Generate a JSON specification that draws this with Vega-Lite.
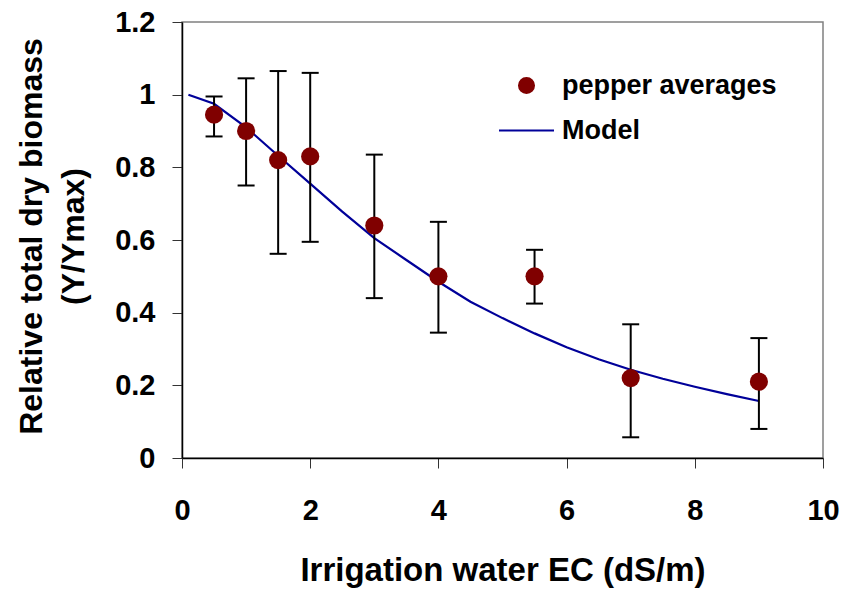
{
  "$schema": "https://vega.github.io/schema/vega-lite/v6.json",
  "autosize": "none",
  "width": 641,
  "height": 436,
  "padding": {"left": 182, "top": 22, "right": 20, "bottom": 132},
  "background": "white",
  "config": {
    "font": "Liberation Sans",
    "view": {"stroke": "#808080", "strokeWidth": 1.5},
    "axis": {
      "grid": false,
      "domainColor": "black",
      "domainWidth": 1.5,
      "tickColor": "#333333",
      "tickSize": 10,
      "tickWidth": 1,
      "labelFont": "Liberation Sans",
      "labelFontWeight": "bold",
      "labelFontSize": 29,
      "labelColor": "black",
      "titleFont": "Liberation Sans",
      "titleFontWeight": "bold",
      "titleFontSize": 31,
      "titleColor": "black"
    }
  },
  "datasets": {
    "obs": [
      {"ec": 0.5, "y": 0.945, "lo": 0.885, "hi": 0.995, "series": "pepper averages"},
      {"ec": 1.0, "y": 0.900, "lo": 0.750, "hi": 1.045, "series": "pepper averages"},
      {"ec": 1.5, "y": 0.820, "lo": 0.562, "hi": 1.065, "series": "pepper averages"},
      {"ec": 2.0, "y": 0.830, "lo": 0.595, "hi": 1.060, "series": "pepper averages"},
      {"ec": 3.0, "y": 0.640, "lo": 0.440, "hi": 0.835, "series": "pepper averages"},
      {"ec": 4.0, "y": 0.500, "lo": 0.345, "hi": 0.650, "series": "pepper averages"},
      {"ec": 5.5, "y": 0.500, "lo": 0.425, "hi": 0.573, "series": "pepper averages"},
      {"ec": 7.0, "y": 0.220, "lo": 0.057, "hi": 0.368, "series": "pepper averages"},
      {"ec": 9.0, "y": 0.210, "lo": 0.080, "hi": 0.330, "series": "pepper averages"}
    ],
    "model": [
      {"ec": 0.1, "y": 1.000, "series": "Model"},
      {"ec": 0.5, "y": 0.975, "series": "Model"},
      {"ec": 1.0, "y": 0.910, "series": "Model"},
      {"ec": 1.5, "y": 0.832, "series": "Model"},
      {"ec": 2.0, "y": 0.755, "series": "Model"},
      {"ec": 2.5, "y": 0.678, "series": "Model"},
      {"ec": 3.0, "y": 0.605, "series": "Model"},
      {"ec": 3.5, "y": 0.545, "series": "Model"},
      {"ec": 4.0, "y": 0.485, "series": "Model"},
      {"ec": 4.5, "y": 0.430, "series": "Model"},
      {"ec": 5.0, "y": 0.385, "series": "Model"},
      {"ec": 5.5, "y": 0.343, "series": "Model"},
      {"ec": 6.0, "y": 0.305, "series": "Model"},
      {"ec": 6.5, "y": 0.272, "series": "Model"},
      {"ec": 7.0, "y": 0.243, "series": "Model"},
      {"ec": 7.5, "y": 0.218, "series": "Model"},
      {"ec": 8.0, "y": 0.196, "series": "Model"},
      {"ec": 8.5, "y": 0.176, "series": "Model"},
      {"ec": 9.0, "y": 0.157, "series": "Model"}
    ]
  },
  "encoding": {
    "x": {
      "field": "ec", "type": "quantitative",
      "scale": {"domain": [0, 10], "nice": false, "zero": false},
      "axis": {"values": [0, 2, 4, 6, 8, 10], "labelPadding": 28, "titlePadding": 29, "titleFontSize": 33, "labelFlush": false, "title": "Irrigation water EC (dS/m)"}
    },
    "y": {
      "field": "y", "type": "quantitative",
      "scale": {"domain": [0, 1.2], "nice": false},
      "axis": {"values": [0, 0.2, 0.4, 0.6, 0.8, 1, 1.2], "format": "~g", "labelPadding": 17, "labelFlush": false, "titlePadding": 24, "titleFontSize": 32, "titleLineHeight": 42, "titleY": 214, "title": ["Relative total dry biomass", "(Y/Ymax)"]}
    }
  },
  "layer": [
    {
      "data": {"name": "model"},
      "mark": {"type": "line", "strokeWidth": 2.2, "interpolate": "linear"},
      "encoding": {
        "color": {
          "field": "series", "type": "nominal",
          "scale": {"domain": ["pepper averages", "Model"], "range": ["#800000", "#000099"]},
          "legend": {
            "title": null,
            "orient": "none",
            "legendX": 331,
            "legendY": 50,
            "padding": 0,
            "symbolSize": 1849,
            "symbolStrokeWidth": 2.2,
            "labelFont": "Liberation Sans",
            "labelFontWeight": "bold",
            "labelFontSize": 27,
            "labelColor": "black",
            "labelOffset": 22,
            "labelLimit": 400,
            "rowPadding": 17,
            "encode": {
              "symbols": {
                "update": {
                  "shape": {"signal": "datum.value === 'Model' ? 'stroke' : 'circle'"},
                  "size": {"signal": "datum.value === 'Model' ? 3025 : 220"},
                  "fill": {"signal": "datum.value === 'Model' ? 'transparent' : '#800000'"},
                  "stroke": {"signal": "datum.value === 'Model' ? '#000099' : 'transparent'"},
                  "strokeWidth": {"value": 2.2},
                  "opacity": {"value": 1}
                }
              }
            }
          }
        }
      }
    },
    {
      "data": {"name": "obs"},
      "mark": {"type": "rule", "color": "black", "strokeWidth": 2},
      "encoding": {
        "y": {"field": "lo", "type": "quantitative"},
        "y2": {"field": "hi"}
      }
    },
    {
      "data": {"name": "obs"},
      "mark": {"type": "tick", "orient": "horizontal", "color": "black", "size": 17, "thickness": 2, "opacity": 1},
      "encoding": {"y": {"field": "lo", "type": "quantitative"}}
    },
    {
      "data": {"name": "obs"},
      "mark": {"type": "tick", "orient": "horizontal", "color": "black", "size": 17, "thickness": 2, "opacity": 1},
      "encoding": {"y": {"field": "hi", "type": "quantitative"}}
    },
    {
      "data": {"name": "obs"},
      "mark": {"type": "point", "filled": true, "opacity": 1, "size": 330, "shape": "circle"},
      "encoding": {
        "color": {"field": "series", "type": "nominal"}
      }
    }
  ]
}
